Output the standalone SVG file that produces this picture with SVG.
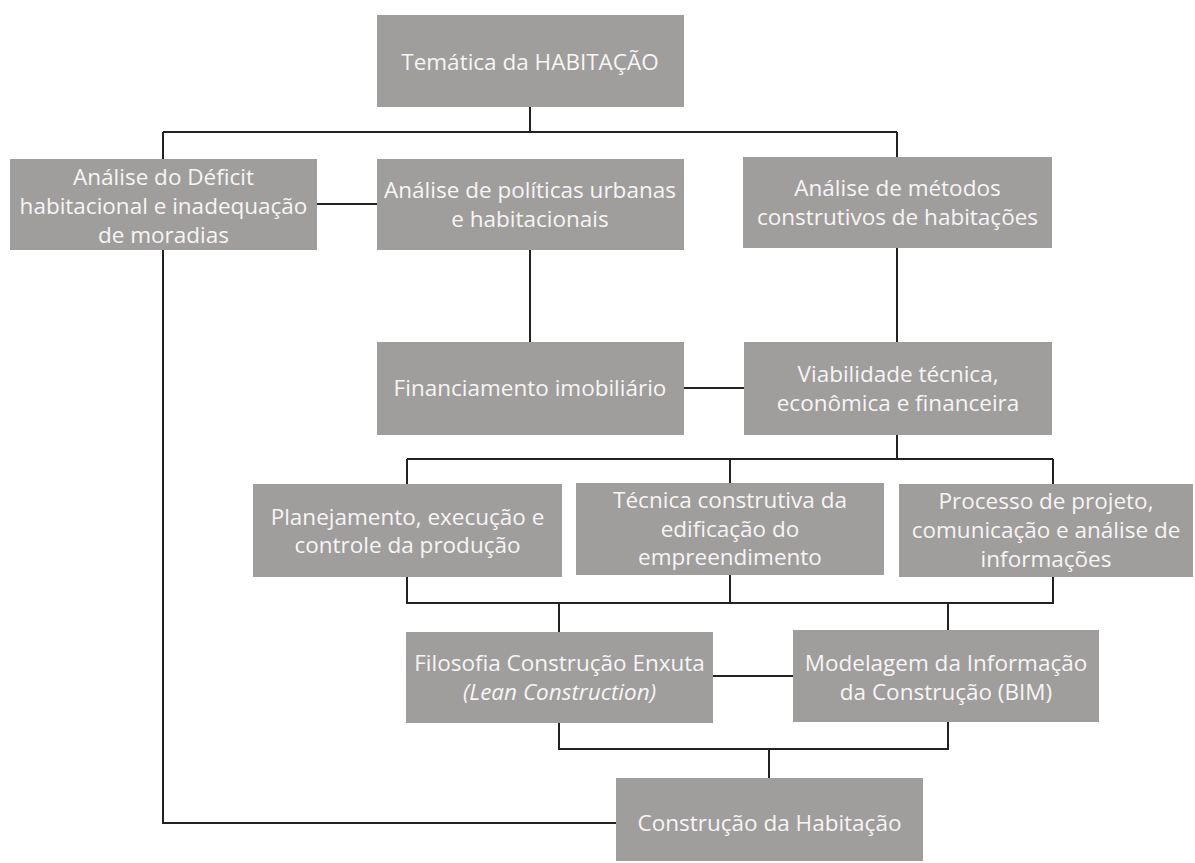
<svg xmlns="http://www.w3.org/2000/svg" width="1195" height="863" viewBox="0 0 1195 863">
  <style>
    .box { fill: #a09d9d; }
    .lbl { font-family: "Open Sans", "Liberation Sans", sans-serif; font-size: 22.5px; fill: #f7f5f5; text-anchor: middle; }
    .it { font-style: italic; }
    .wire { fill: none; stroke: #222222; stroke-width: 2; }
  </style>
  <rect width="1195" height="863" fill="#ffffff"/>

  <g id="connectors">
    <!-- top level fan-out -->
    <path class="wire" d="M530 107 V132 M163 132 H897 M163 132 V159 M897 132 V157"/>
    <!-- level 2 links -->
    <path class="wire" d="M317 204 H377"/>
    <path class="wire" d="M530 250 V342"/>
    <path class="wire" d="M897 248 V342"/>
    <path class="wire" d="M684 388 H744"/>
    <!-- fan-out from viabilidade -->
    <path class="wire" d="M897 435 V459 M407 459 H1053 M407 459 V484 M730 459 V483 M1053 459 V484"/>
    <!-- merge into filosofia -->
    <path class="wire" d="M407 577 V603 H730 M730 575 V603 M559 603 V632"/>
    <!-- merge into modelagem -->
    <path class="wire" d="M730 603 H1053 V577 M948 603 V630"/>
    <path class="wire" d="M713 676 H793"/>
    <!-- merge into construcao -->
    <path class="wire" d="M559 723 V749 H948 V722 M769 749 V778"/>
    <!-- long return from deficit -->
    <path class="wire" d="M163 250 V823 H616"/>
  </g>

  <g id="n-tematica">
    <rect class="box" x="377" y="15" width="307" height="92"/>
    <text class="lbl" x="530" y="70">Temática da HABITAÇÃO</text>
  </g>

  <g id="n-deficit">
    <rect class="box" x="10" y="159" width="307" height="91"/>
    <text class="lbl" x="163.5" y="185">Análise do Déficit</text>
    <text class="lbl" x="163.5" y="214">habitacional e inadequação</text>
    <text class="lbl" x="163.5" y="243">de moradias</text>
  </g>

  <g id="n-politicas">
    <rect class="box" x="377" y="159" width="307" height="91"/>
    <text class="lbl" x="530" y="198">Análise de políticas urbanas</text>
    <text class="lbl" x="530" y="227">e habitacionais</text>
  </g>

  <g id="n-metodos">
    <rect class="box" x="743" y="157" width="309" height="91"/>
    <text class="lbl" x="897.5" y="196">Análise de métodos</text>
    <text class="lbl" x="897.5" y="225">construtivos de habitações</text>
  </g>

  <g id="n-financiamento">
    <rect class="box" x="377" y="342" width="307" height="93"/>
    <text class="lbl" x="530" y="396">Financiamento imobiliário</text>
  </g>

  <g id="n-viabilidade">
    <rect class="box" x="744" y="342" width="308" height="93"/>
    <text class="lbl" x="898" y="382">Viabilidade técnica,</text>
    <text class="lbl" x="898" y="411">econômica e financeira</text>
  </g>

  <g id="n-planejamento">
    <rect class="box" x="253" y="484" width="309" height="93"/>
    <text class="lbl" x="407.5" y="525">Planejamento, execução e</text>
    <text class="lbl" x="407.5" y="553">controle da produção</text>
  </g>

  <g id="n-tecnica">
    <rect class="box" x="576" y="483" width="308" height="92"/>
    <text class="lbl" x="730" y="508">Técnica construtiva da</text>
    <text class="lbl" x="730" y="537">edificação do</text>
    <text class="lbl" x="730" y="565">empreendimento</text>
  </g>

  <g id="n-processo">
    <rect class="box" x="899" y="484" width="294" height="93"/>
    <text class="lbl" x="1046" y="509">Processo de projeto,</text>
    <text class="lbl" x="1046" y="538">comunicação e análise de</text>
    <text class="lbl" x="1046" y="567">informações</text>
  </g>

  <g id="n-lean">
    <rect class="box" x="406" y="632" width="307" height="91"/>
    <text class="lbl" x="559.5" y="671">Filosofia Construção Enxuta</text>
    <text class="lbl it" x="559.5" y="700">(Lean Construction)</text>
  </g>

  <g id="n-bim">
    <rect class="box" x="793" y="630" width="306" height="92"/>
    <text class="lbl" x="946" y="671">Modelagem da Informação</text>
    <text class="lbl" x="946" y="700">da Construção (BIM)</text>
  </g>

  <g id="n-construcao">
    <rect class="box" x="616" y="778" width="307" height="83"/>
    <text class="lbl" x="769.5" y="831">Construção da Habitação</text>
  </g>
</svg>
